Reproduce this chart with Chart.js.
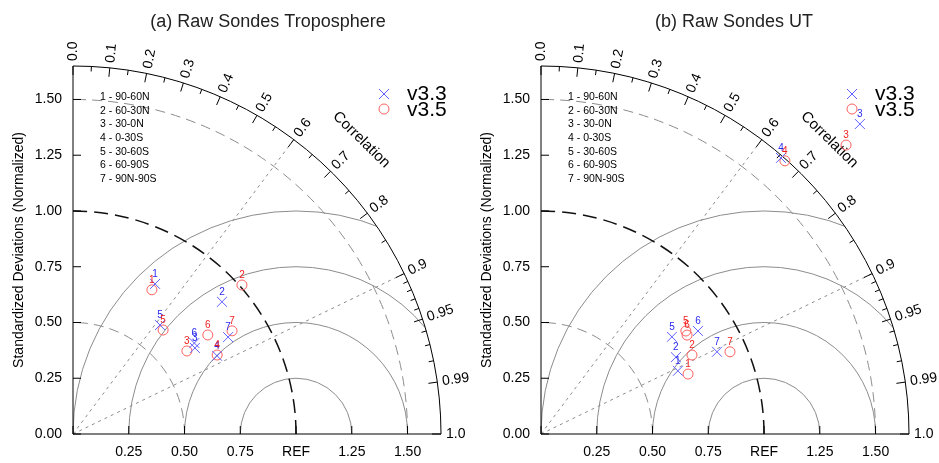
<!DOCTYPE html>
<html>
<head>
<meta charset="utf-8">
<script src="https://cdn.jsdelivr.net/npm/chart.js@4.4.1/dist/chart.umd.min.js"></script>
<style>
  body { margin: 0; background: #fff; }
  .panel { position: absolute; top: 0; width: 470px; height: 463px; }
</style>
</head>
<body>
<div class="panel" style="left:0"><canvas id="chartA" width="470" height="463"></canvas></div>
<div class="panel" style="left:468px"><canvas id="chartB" width="470" height="463"></canvas></div>
<script>
// region legend + point ids
const regions = ["1 - 90-60N", "2 - 60-30N", "3 - 30-0N", "4 - 0-30S", "5 - 30-60S", "6 - 60-90S", "7 - 90N-90S"];
const pointIds = ["1", "2", "3", "4", "5", "6", "7"];
const seriesNames = ["v3.3", "v3.5"];

// axes
const sdMax = 1.65;
const sdTicks = [0, 0.25, 0.5, 0.75, 1.0, 1.25, 1.5];
const yTickLabels = ["0.00", "0.25", "0.50", "0.75", "1.00", "1.25", "1.50"];
const xTickLabels = ["", "0.25", "0.50", "0.75", "REF", "1.25", "1.50"];
const corrMajor = [0.0, 0.1, 0.2, 0.3, 0.4, 0.5, 0.6, 0.7, 0.8, 0.9, 0.95, 0.99, 1.0];
const corrLabels = ["0.0", "0.1", "0.2", "0.3", "0.4", "0.5", "0.6", "0.7", "0.8", "0.9", "0.95", "0.99", "1.0"];
const corrMinor = [0.05, 0.15, 0.25, 0.35, 0.45, 0.55, 0.65, 0.75, 0.85, 0.91, 0.92, 0.93, 0.94, 0.96, 0.97, 0.98];
const rmsCircles = [0.25, 0.5, 0.75, 1.0];
const sdArcs = [0.5, 1.0, 1.5];
const corrRays = [0.6, 0.9];

// (a) troposphere: normalized std dev and correlation
const tropoSd33 = [0.767, 0.893, 0.669, 0.735, 0.625, 0.680, 0.820];
const tropoCor33 = [0.480, 0.748, 0.817, 0.879, 0.624, 0.800, 0.848];
const tropoSd35 = [0.737, 1.010, 0.632, 0.737, 0.617, 0.750, 0.850];
const tropoCor35 = [0.480, 0.750, 0.808, 0.877, 0.655, 0.806, 0.839];

// (b) upper troposphere
const utSd33 = [0.676, 0.696, 1.994, 1.640, 0.731, 0.842, 0.871];
const utCor33 = [0.908, 0.869, 0.717, 0.656, 0.803, 0.836, 0.906];
const utSd35 = [0.712, 0.764, 1.884, 1.642, 0.797, 0.791, 0.924];
const utCor35 = [0.926, 0.886, 0.726, 0.666, 0.815, 0.828, 0.917];

const FONT = "'Liberation Sans', Arial, Helvetica, sans-serif";
const BLUE = "rgb(95,95,255)";
const RED = "rgb(255,95,95)";
const BLUE_TXT = "rgb(40,40,235)";
const RED_TXT = "rgb(240,30,30)";
const GRAY = "#8c8c8c";

function toXY(sd, cor) {
  return sd.map((s, i) => ({ x: s * cor[i], y: s * Math.sqrt(1 - cor[i] * cor[i]) }));
}

function taylorPlugin(title, titleX) {
  return {
    id: "taylor",
    beforeDatasetsDraw(chart) {
      const { ctx } = chart;
      const xs = chart.scales.x, ys = chart.scales.y;
      const ox = xs.getPixelForValue(0), oy = ys.getPixelForValue(0);
      const u = xs.getPixelForValue(1) - ox;
      const R = sdMax * u;
      ctx.save();

      // rms circles around REF, clipped to the quarter disc
      ctx.save();
      ctx.beginPath();
      ctx.moveTo(ox, oy);
      ctx.arc(ox, oy, R, 0, -Math.PI / 2, true);
      ctx.closePath();
      ctx.clip();
      ctx.strokeStyle = GRAY;
      ctx.lineWidth = 1;
      rmsCircles.forEach((r) => {
        ctx.beginPath();
        ctx.arc(xs.getPixelForValue(1), oy, r * u, Math.PI, 2 * Math.PI);
        ctx.stroke();
      });
      ctx.restore();

      // std dev arcs
      sdArcs.forEach((r) => {
        ctx.beginPath();
        if (r === 1.0) {
          ctx.strokeStyle = "#111";
          ctx.lineWidth = 1.5;
          ctx.setLineDash([14, 7]);
        } else {
          ctx.strokeStyle = GRAY;
          ctx.lineWidth = 1;
          ctx.setLineDash([10, 6]);
        }
        ctx.arc(ox, oy, r * u, 0, -Math.PI / 2, true);
        ctx.stroke();
      });

      // correlation rays
      ctx.strokeStyle = GRAY;
      ctx.lineWidth = 1;
      ctx.setLineDash([3, 4]);
      corrRays.forEach((c) => {
        const t = Math.acos(c);
        ctx.beginPath();
        ctx.moveTo(ox, oy);
        ctx.lineTo(ox + R * Math.cos(t), oy - R * Math.sin(t));
        ctx.stroke();
      });
      ctx.setLineDash([]);

      // axes frame
      ctx.strokeStyle = "#000";
      ctx.lineWidth = 1;
      ctx.beginPath();
      ctx.moveTo(ox, oy - R);
      ctx.lineTo(ox, oy);
      ctx.lineTo(ox + R, oy);
      ctx.stroke();
      ctx.beginPath();
      ctx.arc(ox, oy, R, 0, -Math.PI / 2, true);
      ctx.stroke();

      // sd ticks + labels
      ctx.fillStyle = "#000";
      ctx.font = "14px " + FONT;
      sdTicks.forEach((v, i) => {
        const py = ys.getPixelForValue(v);
        const px = xs.getPixelForValue(v);
        ctx.beginPath();
        ctx.moveTo(ox, py); ctx.lineTo(ox + 8, py);
        ctx.moveTo(px, oy); ctx.lineTo(px, oy - 8);
        ctx.stroke();
        ctx.textAlign = "right"; ctx.textBaseline = "middle";
        ctx.fillText(yTickLabels[i], ox - 11, py);
        ctx.textAlign = "center"; ctx.textBaseline = "top";
        ctx.fillText(xTickLabels[i], px, oy + 11);
      });

      // correlation ticks
      const tick = (c, len) => {
        const t = Math.acos(c);
        ctx.beginPath();
        ctx.moveTo(ox + R * Math.cos(t), oy - R * Math.sin(t));
        ctx.lineTo(ox + (R - len) * Math.cos(t), oy - (R - len) * Math.sin(t));
        ctx.stroke();
      };
      corrMajor.forEach((c) => tick(c, 9));
      corrMinor.forEach((c) => tick(c, 5));
      ctx.textAlign = "left"; ctx.textBaseline = "middle";
      corrMajor.forEach((c, i) => {
        const t = Math.acos(c);
        ctx.save();
        ctx.translate(ox + (R + 5) * Math.cos(t), oy - (R + 5) * Math.sin(t));
        ctx.rotate(-t);
        ctx.fillText(corrLabels[i], 0, 0);
        ctx.restore();
      });
      const tc = Math.acos(0.7);
      ctx.save();
      ctx.translate(ox + (R + 44) * Math.cos(tc), oy - (R + 44) * Math.sin(tc));
      ctx.rotate(Math.PI / 2 - tc);
      ctx.textAlign = "center";
      ctx.font = "15px " + FONT;
      ctx.fillText("Correlation", 0, 0);
      ctx.restore();

      // y title
      ctx.save();
      ctx.translate(19, oy - R / 2);
      ctx.rotate(-Math.PI / 2);
      ctx.textAlign = "center"; ctx.textBaseline = "middle";
      ctx.font = "14px " + FONT;
      ctx.fillText("Standardized Deviations (Normalized)", 0, 0);
      ctx.restore();

      // panel title
      ctx.font = "18px " + FONT;
      ctx.textAlign = "center"; ctx.textBaseline = "alphabetic";
      ctx.fillStyle = "#222";
      ctx.fillText(title, titleX, 27);

      // region list
      ctx.fillStyle = "#000";
      ctx.font = "10.5px " + FONT;
      ctx.textAlign = "left"; ctx.textBaseline = "middle";
      regions.forEach((r, i) => ctx.fillText(r, ox + 27, 97 + i * 13.7));

      // series legend
      ctx.lineWidth = 1;
      ctx.strokeStyle = BLUE;
      ctx.beginPath();
      ctx.moveTo(ox + 306, 89); ctx.lineTo(ox + 316, 99);
      ctx.moveTo(ox + 316, 89); ctx.lineTo(ox + 306, 99);
      ctx.stroke();
      ctx.strokeStyle = RED;
      ctx.beginPath();
      ctx.arc(ox + 311, 109, 5, 0, 2 * Math.PI);
      ctx.stroke();
      ctx.fillStyle = "#000";
      ctx.font = "21px " + FONT;
      ctx.textBaseline = "alphabetic";
      ctx.fillText(seriesNames[0], ox + 334, 100);
      ctx.fillText(seriesNames[1], ox + 334, 116);
      ctx.restore();
    },
    afterDatasetsDraw(chart) {
      const { ctx } = chart;
      ctx.save();
      ctx.font = "10px " + FONT;
      ctx.textAlign = "center"; ctx.textBaseline = "middle";
      chart.data.datasets.forEach((ds, di) => {
        ctx.fillStyle = di === 0 ? BLUE_TXT : RED_TXT;
        chart.getDatasetMeta(di).data.forEach((pt, i) => {
          ctx.fillText(pointIds[i], pt.x, pt.y - 10);
        });
      });
      ctx.restore();
    }
  };
}

function makeChart(id, title, titleX, sd33, cor33, sd35, cor35) {
  return new Chart(document.getElementById(id), {
    type: "scatter",
    data: {
      datasets: [
        { label: seriesNames[0], data: toXY(sd33, cor33), pointStyle: "crossRot", pointRadius: 7,
          borderColor: BLUE, backgroundColor: BLUE, borderWidth: 1, clip: false },
        { label: seriesNames[1], data: toXY(sd35, cor35), pointStyle: "circle", pointRadius: 5,
          borderColor: RED, backgroundColor: "rgba(0,0,0,0)", borderWidth: 1, clip: false }
      ]
    },
    options: {
      responsive: false,
      animation: false,
      events: [],
      layout: { padding: { left: 73, right: 29, top: 66, bottom: 29 } },
      scales: {
        x: { type: "linear", min: 0, max: sdMax, display: false },
        y: { type: "linear", min: 0, max: sdMax, display: false }
      },
      plugins: { legend: { display: false }, tooltip: { enabled: false } }
    },
    plugins: [taylorPlugin(title, titleX)]
  });
}

makeChart("chartA", "(a) Raw Sondes Troposphere", 268, tropoSd33, tropoCor33, tropoSd35, tropoCor35);
makeChart("chartB", "(b) Raw Sondes UT", 266, utSd33, utCor33, utSd35, utCor35);
</script>
</body>
</html>
